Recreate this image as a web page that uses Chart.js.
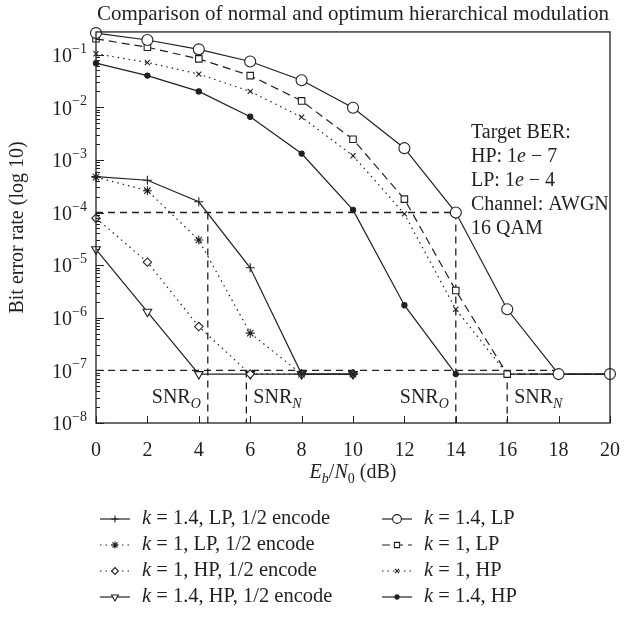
<!DOCTYPE html>
<html>
<head>
<meta charset="utf-8">
<script src="https://cdn.jsdelivr.net/npm/chart.js@4.4.1/dist/chart.umd.min.js"></script>
<style>
html, body { margin: 0; padding: 0; background: #fff; }
</style>
</head>
<body>
<canvas id="myChart" width="628" height="617"></canvas>
<script>
// valores (BER, escala log)
var ebn0 = [0, 2, 4, 6, 8, 10, 12, 14, 16, 18, 20];
var ebn0Coded = [0, 2, 4, 6, 8, 10];

var lpCoded14 = [4.8e-4, 4.1e-4, 1.6e-4, 8.9e-6, 8.5e-8, 8.5e-8];
var lpCoded1  = [4.7e-4, 2.6e-4, 3.0e-5, 5.1e-7, 8.5e-8, 8.5e-8];
var hpCoded1  = [7.8e-5, 1.14e-5, 6.8e-7, 8.5e-8, 8.5e-8, 8.5e-8];
var hpCoded14 = [2.0e-5, 1.3e-6, 8.5e-8, 8.5e-8, 8.5e-8, 8.5e-8];

var lp14 = [0.257, 0.19, 0.126, 0.074, 0.0327, 0.0098, 1.67e-3, 1.0e-4, 1.45e-6, 8.5e-8, 8.5e-8];
var lp1  = [0.20, 0.138, 0.083, 0.040, 0.0132, 2.46e-3, 1.8e-4, 3.3e-6, 8.5e-8, 8.5e-8, 8.5e-8];
var hp1  = [0.104, 0.071, 0.0427, 0.020, 6.5e-3, 1.2e-3, 9.4e-5, 1.45e-6, 8.5e-8, 8.5e-8, 8.5e-8];
var hp14 = [0.069, 0.040, 0.020, 6.6e-3, 1.32e-3, 1.12e-4, 1.73e-6, 8.5e-8, 8.5e-8, 8.5e-8, 8.5e-8];

var xTicks = [0, 2, 4, 6, 8, 10, 12, 14, 16, 18, 20];
var yDecades = [-8, -7, -6, -5, -4, -3, -2, -1];
var yMin = 1e-8, yMax = 0.27;

// objetivos y puntos SNR
var targetLP = 1e-4, targetHP = 1e-7;
var snrLP = [4.35, 14];
var snrHP = [5.85, 16];
var targetHPEnd = 18;

var infoLines = [
    [{t: 'Target BER:'}],
    [{t: 'HP: 1'}, {t: 'e', i: 1}, {t: ' \u2212 7'}],
    [{t: 'LP: 1'}, {t: 'e', i: 1}, {t: ' \u2212 4'}],
    [{t: 'Channel: AWGN'}],
    [{t: '16 QAM'}]
];

var INK = '#231f20';
var FONT = "'Liberation Serif', 'Times New Roman', serif";

function pts(xs, ys) {
    return xs.map(function (x, i) { return {x: x, y: ys[i]}; });
}

function serie(label, xs, ys, style, radius, dash, fill, rot) {
    return {
        label: label,
        data: pts(xs, ys),
        borderColor: INK,
        borderWidth: 1.2,
        borderDash: dash,
        pointStyle: style,
        pointRadius: radius,
        pointRotation: rot || 0,
        pointBorderColor: INK,
        pointBorderWidth: 1.1,
        pointBackgroundColor: fill,
        tension: 0,
        clip: false
    };
}

function guide(points) {
    return {
        label: '',
        guide: true,
        data: points,
        borderColor: INK,
        borderWidth: 1.3,
        borderDash: [7, 5],
        pointRadius: 0,
        tension: 0,
        clip: false
    };
}

var DOT = [1.5, 4];
var datasets = [
    serie('k = 1.4, LP, 1/2 encode', ebn0Coded, lpCoded14, 'cross', 4.5, [], INK),
    serie('k = 1, LP, 1/2 encode', ebn0Coded, lpCoded1, 'star', 4.5, DOT, INK),
    serie('k = 1, HP, 1/2 encode', ebn0Coded, hpCoded1, 'rectRot', 4.2, DOT, '#fff'),
    serie('k = 1.4, HP, 1/2 encode', ebn0Coded, hpCoded14, 'triangle', 5, [], '#fff', 180),
    serie('k = 1.4, LP', ebn0, lp14, 'circle', 5.5, [], '#fff'),
    serie('k = 1, LP', ebn0, lp1, 'rect', 4.6, [8, 5], '#fff'),
    serie('k = 1, HP', ebn0, hp1, 'crossRot', 3.6, DOT, INK),
    serie('k = 1.4, HP', ebn0, hp14, 'circle', 2.6, [], INK),
    guide([{x: 0, y: targetLP}, {x: snrLP[1], y: targetLP}]),
    guide([{x: snrLP[0], y: targetLP}, {x: snrLP[0], y: yMin}]),
    guide([{x: snrLP[1], y: targetLP}, {x: snrLP[1], y: yMin}]),
    guide([{x: 0, y: targetHP}, {x: targetHPEnd, y: targetHP}]),
    guide([{x: snrHP[0], y: targetHP}, {x: snrHP[0], y: yMin}]),
    guide([{x: snrHP[1], y: targetHP}, {x: snrHP[1], y: yMin}])
];

function font(size, italic) {
    return (italic ? 'italic ' : '') + size + 'px ' + FONT;
}

function runsWidth(ctx, runs, size) {
    var w = 0;
    runs.forEach(function (r) {
        ctx.font = font(r.s ? size * 0.7 : size, r.i);
        w += ctx.measureText(r.t).width;
    });
    return w;
}

function drawRuns(ctx, runs, x, y, size, align) {
    var w = runsWidth(ctx, runs, size);
    if (align === 'right') x -= w;
    else if (align === 'center') x -= w / 2;
    ctx.textAlign = 'left';
    ctx.textBaseline = 'middle';
    runs.forEach(function (r) {
        var s = r.s ? size * 0.7 : size;
        var dy = r.s === 'sub' ? size * 0.3 : (r.s === 'sup' ? -size * 0.38 : 0);
        ctx.font = font(s, r.i);
        ctx.fillText(r.t, x, y + dy);
        x += ctx.measureText(r.t).width;
    });
}

var decoracion = {
    id: 'decoracion',
    afterDraw: function (chart) {
        var ctx = chart.ctx;
        var a = chart.chartArea;
        var xs = chart.scales.x, ys = chart.scales.y;
        ctx.save();
        ctx.fillStyle = INK;
        ctx.strokeStyle = INK;

        // marco
        ctx.lineWidth = 1.3;
        ctx.setLineDash([]);
        ctx.strokeRect(a.left, a.top, a.right - a.left, a.bottom - a.top);

        // marcas hacia dentro
        ctx.lineWidth = 1;
        ctx.beginPath();
        xTicks.forEach(function (v) {
            var px = Math.round(xs.getPixelForValue(v)) + 0.5;
            ctx.moveTo(px, a.bottom);
            ctx.lineTo(px, a.bottom - 7);
        });
        yDecades.forEach(function (n) {
            for (var m = 1; m <= 9; m++) {
                var v = m * Math.pow(10, n);
                if (v > yMax) break;
                var py = Math.round(ys.getPixelForValue(v)) + 0.5;
                ctx.moveTo(a.left, py);
                ctx.lineTo(a.left + (m === 1 ? 8 : 4), py);
            }
        });
        ctx.stroke();

        // etiquetas eje y
        yDecades.forEach(function (n) {
            var py = ys.getPixelForValue(Math.pow(10, n));
            drawRuns(ctx, [{t: '10'}, {t: '\u2212' + (-n), s: 'sup'}], a.left - 9, py + 2, 20, 'right');
        });

        // titulo eje x
        drawRuns(ctx, [{t: 'E', i: 1}, {t: 'b', i: 1, s: 'sub'}, {t: '/'}, {t: 'N', i: 1},
            {t: '0', s: 'sub'}, {t: ' (dB)'}], (a.left + a.right) / 2, 473, 20, 'center');

        // etiquetas SNR
        var ySnr = 398;
        [0, 1].forEach(function (k) {
            drawRuns(ctx, [{t: 'SNR'}, {t: 'O', i: 1, s: 'sub'}], xs.getPixelForValue(snrLP[k]) - 7, ySnr, 20, 'right');
            drawRuns(ctx, [{t: 'SNR'}, {t: 'N', i: 1, s: 'sub'}], xs.getPixelForValue(snrHP[k]) + 7, ySnr, 20, 'left');
        });

        // recuadro de texto
        infoLines.forEach(function (runs, i) {
            drawRuns(ctx, runs, 471, 133 + i * 24, 20, 'left');
        });

        // leyenda
        var cols = [100, 382];
        var rows = [519, 545, 571, 597];
        chart.data.datasets.forEach(function (ds, i) {
            if (ds.guide) return;
            var x0 = cols[Math.floor(i / 4)], y = rows[i % 4];
            ctx.lineWidth = ds.borderWidth;
            ctx.setLineDash(ds.borderDash);
            ctx.beginPath();
            ctx.moveTo(x0, y);
            ctx.lineTo(x0 + 30, y);
            ctx.stroke();
            ctx.setLineDash([]);
            ctx.fillStyle = ds.pointBackgroundColor;
            ctx.lineWidth = ds.pointBorderWidth;
            Chart.helpers.drawPoint(ctx, {
                pointStyle: ds.pointStyle,
                radius: ds.pointRadius * 0.8,
                rotation: ds.pointRotation,
                borderWidth: ds.pointBorderWidth
            }, x0 + 15, y);
            ctx.fillStyle = INK;
            drawRuns(ctx, [{t: 'k', i: 1}, {t: ds.label.slice(1)}], x0 + 42, y, 20.5, 'left');
        });

        ctx.restore();
    }
};

var ctx = document.getElementById('myChart').getContext('2d');
var myChart = new Chart(ctx, {
    type: 'line',
    data: { datasets: datasets },
    plugins: [decoracion],
    options: {
        responsive: false,
        animation: false,
        layout: { padding: { left: 0, right: 11, top: 0, bottom: 0 } },
        plugins: {
            legend: { display: false },
            tooltip: { enabled: false },
            title: {
                display: true,
                fullSize: false,
                text: 'Comparison of normal and optimum hierarchical modulation',
                color: INK,
                font: { family: FONT, size: 21, weight: 'normal', lineHeight: 1.15 },
                padding: { top: 2, bottom: 5.8 }
            }
        },
        scales: {
            x: {
                type: 'linear',
                min: 0,
                max: 20,
                grid: { display: false },
                border: { display: false },
                ticks: {
                    stepSize: 2,
                    color: INK,
                    padding: 8,
                    maxRotation: 0,
                    font: { family: FONT, size: 20 }
                },
                afterFit: function (scale) { scale.height = 194; }
            },
            y: {
                type: 'logarithmic',
                min: yMin,
                max: yMax,
                grid: { display: false },
                border: { display: false },
                ticks: { display: false },
                title: {
                    display: true,
                    text: 'Bit error rate (log 10)',
                    color: INK,
                    font: { family: FONT, size: 20 },
                    padding: { top: 6, bottom: 0 }
                },
                afterFit: function (scale) { scale.width = 96; }
            }
        }
    }
});
</script>
</body>
</html>
